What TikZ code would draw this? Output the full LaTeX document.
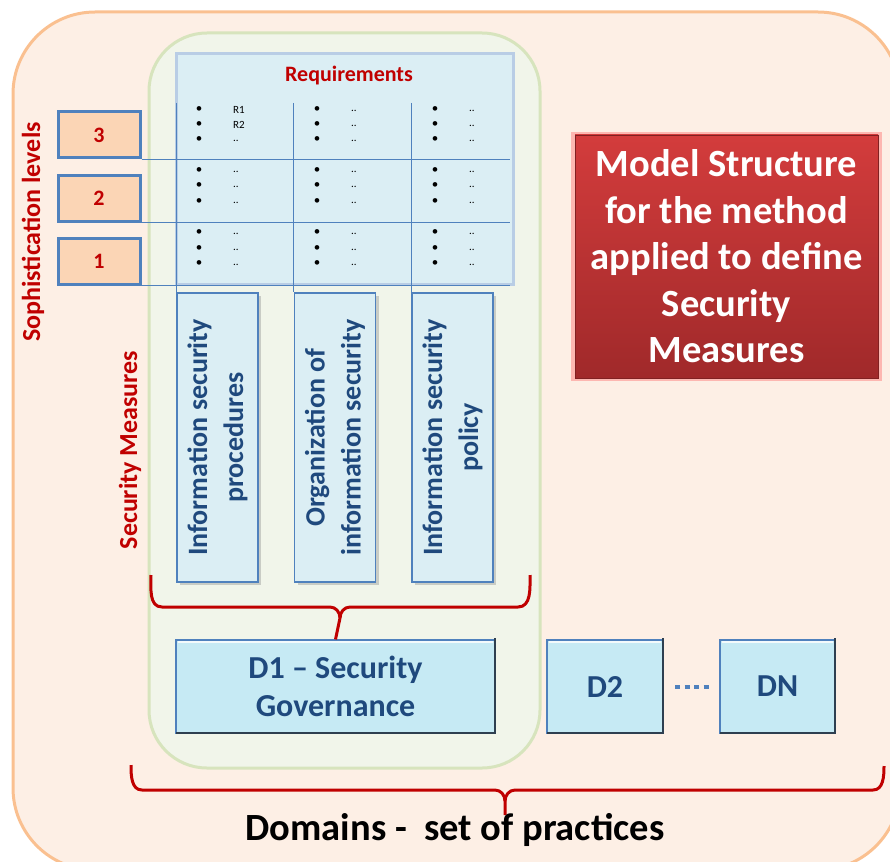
\documentclass[tikz,border=0pt]{standalone}
\usepackage{fontspec}
\setmainfont{Carlito}
\usetikzlibrary{shadows}
\definecolor{outerfill}{HTML}{FDEFE5}
\definecolor{outerdraw}{HTML}{FAC090}
\definecolor{greenfill}{HTML}{F1F5EA}
\definecolor{greendraw}{HTML}{D7E4BD}
\definecolor{tabfill}{HTML}{DBEEF4}
\definecolor{tabdraw}{HTML}{B9CDE5}
\definecolor{blueline}{HTML}{4F81BD}
\definecolor{lvlfill}{HTML}{FBD5B5}
\definecolor{darkred}{HTML}{C00000}
\definecolor{darkblue}{HTML}{1F497D}
\definecolor{dfill}{HTML}{C6EAF4}
\definecolor{dedge}{HTML}{2E3F50}
\definecolor{redtop}{HTML}{D33C3C}
\definecolor{redbot}{HTML}{A0292A}
\tikzset{
  lvlbox/.style={draw=blueline, line width=3pt, fill=lvlfill, minimum width=82pt, minimum height=46pt,
    font=\fontsize{22}{26}\selectfont\bfseries, text=darkred, inner sep=0pt},
  colbox/.style={draw=blueline, line width=1.3pt, fill=tabfill, minimum width=81pt, minimum height=289pt,
    drop shadow={shadow xshift=3pt, shadow yshift=-3pt, opacity=0.35}, inner sep=0pt},
  coltext/.style={rotate=90, align=center, font=\fontsize{28}{36}\selectfont\bfseries, text=darkblue},
  dbox/.style={draw=blueline, line width=1.2pt, fill=dfill, minimum height=93pt, align=center,
    font=\fontsize{32}{38}\selectfont\bfseries, text=darkblue, inner sep=0pt},
  sidelabel/.style={rotate=90, font=\fontsize{26}{30}\selectfont\bfseries, text=darkred},
  bracepath/.style={draw=darkred, line width=3pt, line join=round},
  gridline/.style={draw=blueline, line width=0.9pt},
  bul/.style={font=\fontsize{13}{13}\selectfont, inner sep=0pt},
  req/.style={font=\fontsize{11}{11}\selectfont, inner sep=0pt, anchor=west},
}
\begin{document}
\begin{tikzpicture}[x=1pt,y=1pt]
\useasboundingbox (0,0) rectangle (890,-861);
% outer panel
\path[fill=outerfill, draw=outerdraw, line width=3pt, rounded corners=82pt] (13,-12) rectangle (900,-870);
% green panel
\path[fill=greenfill, draw=greendraw, line width=3pt, rounded corners=58pt] (149,-33) rectangle (540,-768);
% requirements table
\node[fill=tabfill, draw=tabdraw, line width=3pt, minimum width=337pt, minimum height=230pt, inner sep=0pt] (T) at (344.5,-169) {};
\node[font=\fontsize{22}{22}\selectfont\bfseries, text=darkred] (Rq) at (349,-76) {Requirements};
% level boxes
\node[lvlbox] (L3) at (99,-135) {3};
\node[lvlbox] (L2) at (99,-198) {2};
\node[lvlbox] (L1) at (99,-261) {1};
% column boxes
\node[colbox] (C1) at (217.5,-437.5) {};
\node[colbox] (C2) at (335,-437.5) {};
\node[colbox] (C3) at (452.5,-437.5) {};
\node[coltext] (C1t) at (C1) {Information security\\procedures};
\node[coltext] (C2t) at (C2) {Organization of\\information security};
\node[coltext] (C3t) at (C3) {Information security\\policy};
% grid lines
\draw[gridline] (L3.south east) -- ++(368,0);
\draw[gridline] (L2.south east) -- ++(368,0);
\draw[gridline] (L1.south east) -- ++(368,0);
\draw[gridline] (C1.north west |- 0,-103) -- (C1.north west);
\draw[gridline] (C2.north west |- 0,-103) -- (C2.north west);
\draw[gridline] (C3.north west |- 0,-103) -- (C3.north west);
% bullets
\foreach \bx/\col in {199/1,317/2,435/3}{
  \foreach \ry/\row in {110/a,125/b,140/c,171/d,186/e,202/f,233/g,249/h,264/i}{
    \node[bul] (b\col\row) at (\bx,-\ry) {•};
  }
}
% requirement entries
\node[req] (r1a) at (233,-110) {R1};
\node[req] (r1b) at (233,-125) {R2};
\foreach \ry/\row in {140/c,171/d,186/e,202/f,233/g,249/h,264/i}{
  \node[req] (t1\row) at (233,-\ry-1) {..};
}
\foreach \tx/\col in {351/2,469/3}{
  \foreach \ry/\row in {110/a,125/b,140/c,171/d,186/e,202/f,233/g,249/h,264/i}{
    \node[req] (t\col\row) at (\tx,-\ry-1) {..};
  }
}
% side labels
\node[sidelabel] (SL) at (33,-232) {Sophistication levels};
\node[sidelabel] (SM) at (130,-450) {Security Measures};
% domain boxes
\node[dbox, minimum width=319pt] (D1) at (335.5,-686.5) {D1 – Security\\Governance};
\node[dbox, minimum width=116pt] (D2) at (605,-686.5) {D2};
\node[dbox, minimum width=115pt] (DN) at (777.5,-686.5) {DN};
\foreach \n in {D1,D2,DN}{
  \draw[dedge, line width=1.6pt] ([xshift=-0.8pt,yshift=1pt]\n.north east) -- ([xshift=-0.8pt,yshift=0.8pt]\n.south east) -- ([xshift=1pt,yshift=0.8pt]\n.south west);
  \draw[white, line width=1.5pt, opacity=0.8] ([xshift=3pt,yshift=-2.5pt]\n.north west) -- ([xshift=-3pt,yshift=-2.5pt]\n.north east);
}
\coordinate (dotA) at (675,-687);
\coordinate (dotB) at (709,-687);
\draw[blueline, line width=4.5pt, dash pattern=on 5pt off 4.5pt] (dotA) -- (dotB);
% small brace
\coordinate (sbL) at (151,-575);
\coordinate (sbR) at (530,-575);
\draw[bracepath] (sbL) to[out=-90,in=180] (162,-607) -- (330,-607) to[out=0,in=90] (340,-618) -- (D1.north);
\draw[bracepath] (sbR) to[out=-90,in=0] (518,-607) -- (350,-607) to[out=180,in=90] (340,-618);
% big brace
\coordinate (bbL) at (131,-765);
\coordinate (bbR) at (884,-766);
\coordinate (bbM) at (505,-815);
\draw[bracepath] (bbL) to[out=-90,in=180] (142,-790) -- (495,-790) to[out=0,in=90] (505,-801) -- (bbM);
\draw[bracepath] (bbR) to[out=-90,in=0] (873,-790) -- (515,-790) to[out=180,in=90] (505,-801);
% domains label
\node[font=\fontsize{38.5}{38.5}\selectfont\bfseries] (Dom) at (455,-830) {Domains -\ \ set of practices};
% red title box
\node[draw=redbot!80!black, line width=0.8pt, top color=redtop, bottom color=redbot,
  minimum width=303pt, minimum height=243pt, inner sep=0pt, align=center,
  font=\fontsize{38.5}{46.5}\selectfont\bfseries, text=white,
  drop shadow={shadow xshift=0pt, shadow yshift=0pt, shadow scale=1.025, fill=red!55!white, opacity=0.45}]
  (MS) at (726.5,-256.5) {Model Structure\\for the method\\applied to define\\Security\\Measures};
\end{tikzpicture}
\end{document}
